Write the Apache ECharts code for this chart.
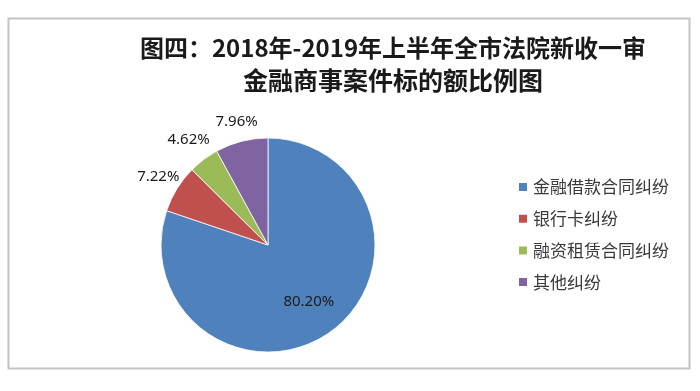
<!DOCTYPE html>
<html>
<head>
<meta charset="utf-8">
<script src="https://cdn.jsdelivr.net/npm/echarts@6/dist/echarts.min.js"></script>
<style>
html,body{margin:0;padding:0;background:#fff;}
#chart{width:700px;height:391px;}
</style>
</head>
<body>
<div id="chart"></div>
<script>
var titleLines = ['图四：2018年-2019年上半年全市法院新收一审', '金融商事案件标的额比例图'];
var categories = ['金融借款合同纠纷', '银行卡纠纷', '融资租赁合同纠纷', '其他纠纷'];
var values = [80.20, 7.22, 4.62, 7.96];
var colors = ['#4F81BD', '#C0504D', '#9BBB59', '#8064A2'];
var labelLengths = [-37, 22, 25, 20];

var chart = echarts.init(document.getElementById('chart'), null, {renderer: 'canvas'});
var data = categories.map(function (name, i) {
  return {
    name: name,
    value: values[i],
    itemStyle: {color: colors[i]},
    labelLine: {show: false, length: labelLengths[i], length2: 0}
  };
});

chart.setOption({
  backgroundColor: '#ffffff',
  animation: false,
  graphic: [{
    type: 'rect',
    shape: {x: 8.5, y: 18.5, width: 681, height: 350},
    style: {fill: 'none', stroke: '#c4c4c4', lineWidth: 2},
    silent: true
  }],
  title: {
    text: '{a|' + titleLines[0] + '}\n{b|' + titleLines[1] + '}',
    left: 388,
    top: 27,
    textAlign: 'center',
    textStyle: {
      rich: {
        a: {
          fontFamily: '"Noto Sans CJK SC", sans-serif',
          fontSize: 24,
          fontWeight: 'bold',
          color: '#1a1a1a',
          lineHeight: 32
        },
        b: {
          fontFamily: '"Noto Sans CJK SC", sans-serif',
          fontSize: 25,
          fontWeight: 'bold',
          color: '#1a1a1a',
          lineHeight: 32
        }
      }
    }
  },
  legend: {
    orient: 'vertical',
    left: 512,
    top: 172,
    itemWidth: 10,
    itemHeight: 10,
    itemGap: 11.7,
    icon: 'rect',
    data: categories,
    textStyle: {
      fontFamily: '"Noto Sans CJK SC", sans-serif',
      fontSize: 17,
      color: '#3a3a3a',
      lineHeight: 20
    }
  },
  series: [{
    type: 'pie',
    center: [268, 245],
    radius: [0, 107],
    startAngle: 90,
    clockwise: true,
    avoidLabelOverlap: false,
    itemStyle: {borderColor: '#ffffff', borderWidth: 0.8},
    label: {
      show: true,
      position: 'outside',
      distanceToLabelLine: 0,
      formatter: function (p) { return p.value.toFixed(2) + '%'; },
      fontFamily: '"Noto Sans", sans-serif',
      fontSize: 15,
      color: '#1a1a1a'
    },
    labelLayout: function () { return {align: 'center', verticalAlign: 'middle'}; },
    emphasis: {disabled: true},
    data: data
  }]
});
</script>
</body>
</html>
